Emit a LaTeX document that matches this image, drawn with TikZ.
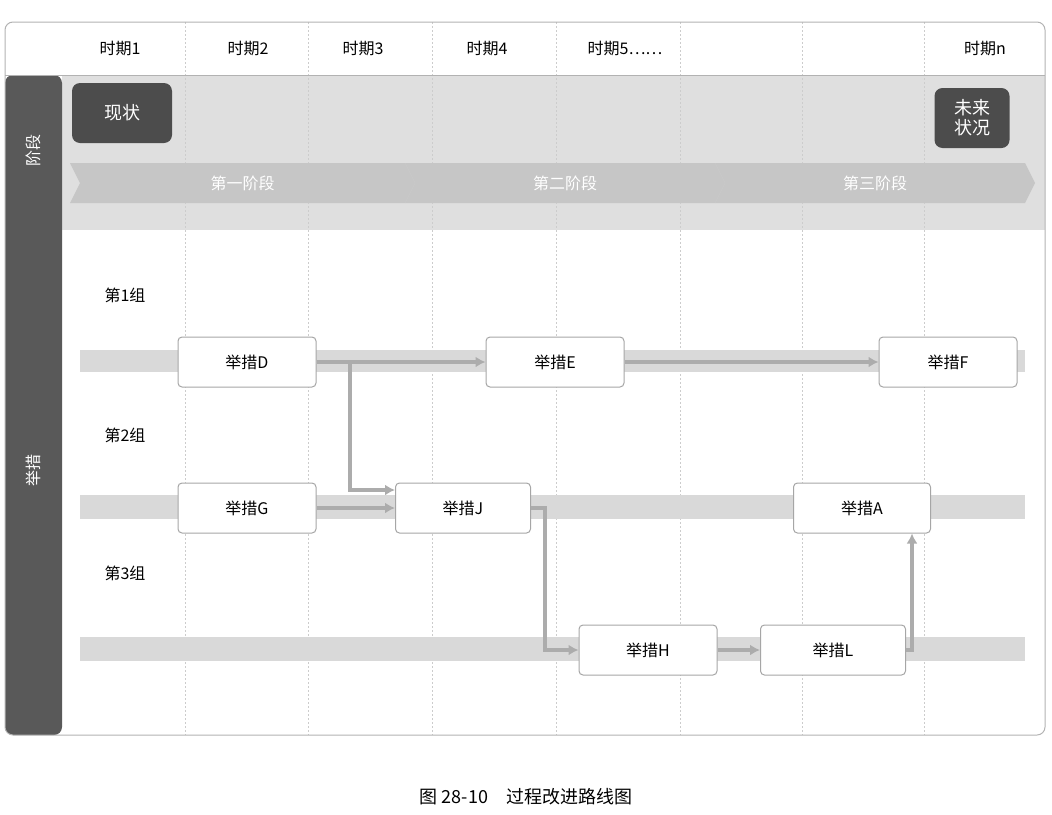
\documentclass[tikz,border=0pt]{standalone}
\usepackage{fontspec}
\newfontfamily\cjk{Noto Sans CJK SC}
\usetikzlibrary{arrows.meta}
\begin{document}
\begin{tikzpicture}[x=1pt,y=-1pt,font=\cjk\fontsize{16}{18}\selectfont,
  act/.style={draw=gray!70,fill=white,rounded corners=4pt,minimum width=138pt,minimum height=50pt,line width=1pt},
  dark/.style={fill=black!70,text=white,rounded corners=8pt,align=center,minimum width=100pt,minimum height=60pt,font=\cjk\fontsize{18}{20}\selectfont},
  flow/.style={draw=gray!65,line width=3.5pt,-{Latex[length=10pt,width=11pt]}},
  band/.style={fill=gray!30},
  grid/.style={draw=gray!40,dash pattern=on 2pt off 2pt}]
\useasboundingbox (0,0) rectangle (1052,814);
\fill[gray!25] (62,75) rectangle (1045,230);
\foreach \x in {185,308,432,556,680,802,924}{\draw[grid] (\x,22) -- (\x,735);}
\fill[band] (80,350) rectangle (1025,372);
\fill[band] (80,495) rectangle (1025,519);
\fill[band] (80,637) rectangle (1025,661);
\fill[black!65,rounded corners=8pt] (5,75) -- (5,735) -- (62,735) -- (62,75) -- cycle;
\draw[gray!60,line width=1pt,rounded corners=8pt] (5,22) rectangle (1045,735);
\draw[gray!60] (5,75) -- (1045,75);
\node[text=white,rotate=90] (s1) at (33,150) {阶段};
\node[text=white,rotate=90] (s2) at (33,470) {举措};
\foreach \t/\x in {时期1/120,时期2/248,时期3/363,时期4/487,时期5……/625}{\node (h\x) at (\x,48) {\t};}
\node (hn) at (985,48) {时期\textit{n}};
\node[dark] (now) at (122,113) {现状};
\node[dark,minimum width=75pt] (fut) at (972,118) {未来\\状况};
\foreach \a/\b/\t [count=\i] in {70/405/第一阶段,405/715/第二阶段,715/1025/第三阶段}{
  \fill[gray!45] (\a,163) -- (\b,163) -- (\b+10,183) -- (\b,203) -- (\a,203) -- (\a+10,183) -- cycle;
  \node[text=white] (c\i) at ({(\a+\b)/2+5},183) {\t};}
\node (g1) at (125,295) {第1组};
\node (g2) at (125,435) {第2组};
\node (g3) at (125,573) {第3组};
\node[act] (D) at (247,362) {举措D};
\node[act] (E) at (555,362) {举措E};
\node[act] (F) at (948,362) {举措F};
\node[act] (G) at (247,508) {举措G};
\node[act,minimum width=135pt] (J) at (463,508) {举措J};
\node[act,minimum width=137pt] (A) at (862,508) {举措A};
\node[act] (H) at (648,650) {举措H};
\node[act,minimum width=145pt] (L) at (833,650) {举措L};
\draw[flow] (D) -- (E);
\draw[flow] (E) -- (F);
\draw[flow] (D.east) -| (350,490) -- (J.west |- 0,490);
\draw[flow] (G) -- (J);
\draw[flow] (J.east) -| (545,650) -- (H.west);
\draw[flow] (H) -- (L);
\draw[flow] (L.east) -| (A.south -| 912,0);
\node[font=\cjk\fontsize{18}{20}\selectfont] (cap) at (526,797) {图 28-10\quad 过程改进路线图};
\end{tikzpicture}
\end{document}
